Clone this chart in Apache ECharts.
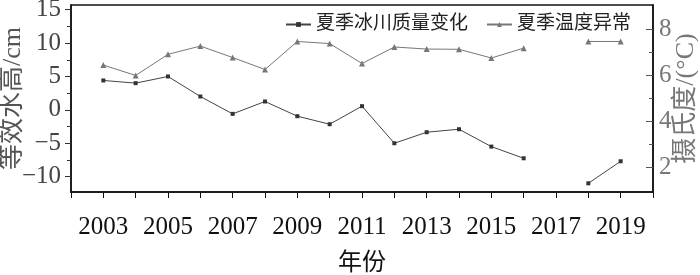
<!DOCTYPE html>
<html>
<head>
<meta charset="utf-8">
<script src="https://cdn.jsdelivr.net/npm/echarts@6/dist/echarts.min.js"></script>
<style>html,body{margin:0;padding:0;background:#fff}#c{width:700px;height:275px}</style>
</head>
<body>
<div id="c"></div>
<script>
const years = [2003,2004,2005,2006,2007,2008,2009,2010,2011,2012,2013,2014,2015,2016,2017,2018,2019];
const glacierMass = [4.4,4.0,5.0,2.0,-0.6,1.25,-0.95,-2.15,0.55,-5.0,-3.35,-2.9,-5.5,-7.25,null,-11.0,-7.7];
const summerTemp = [6.45,6.0,6.92,7.28,6.78,6.26,7.48,7.39,6.52,7.24,7.15,7.14,6.76,7.19,null,7.48,7.48];
const seriesNames = ['夏季冰川质量变化','夏季温度异常'];
const leftTicks = [-10,-5,0,5,10,15];
const leftMinor = [-7.5,-2.5,2.5,7.5,12.5];
const rightTicks = [2,4,6,8];
const rightMinor = [3,5,7];

const serif = 'Liberation Serif, "Noto Sans CJK SC"';
const chart = echarts.init(document.getElementById('c'), null, {renderer:'canvas'});
const minusFmt = v => (v < 0 ? '\u2212' + Math.abs(v) : String(v));
const yBase = (extra) => Object.assign({
  type:'value', splitLine:{show:false}, axisLine:{show:false}
}, extra);

chart.setOption({
  animation:false,
  backgroundColor:'#fff',
  grid:{left:71, right:47, top:5, bottom:83, containLabel:false, outerBoundsMode:'none',
    show:true, borderColor:'#111', borderWidth:1.5, backgroundColor:'transparent'},
  legend:{
    left:280, top:10, itemWidth:25, itemHeight:6, itemGap:18,
    textStyle:{fontSize:19, fontFamily:serif, color:'#222'},
    data:seriesNames
  },
  xAxis:{
    type:'value', min:2002, max:2020, interval:1,
    name:'年份', nameLocation:'middle', nameGap:60, nameMoveOverlap:false,
    nameTextStyle:{fontSize:24, fontFamily:serif, color:'#111'},
    axisLine:{show:true, onZero:false, lineStyle:{color:'#111', width:1.5}},
    axisTick:{show:true, inside:false, length:6, lineStyle:{color:'#111'}},
    axisLabel:{fontSize:25, fontFamily:serif, color:'#111', margin:23,
      formatter: v => (v % 2 === 1 ? String(v) : '')},
    splitLine:{show:false}
  },
  yAxis:[
    yBase({position:'left', min:-12.3, max:15.7,
      name:'等效水高/cm', nameLocation:'middle', nameGap:45, nameRotate:90, nameMoveOverlap:false,
      nameTextStyle:{fontSize:26, fontFamily:serif, color:'#555'},
      axisLine:{show:true, onZero:false, lineStyle:{color:'#111', width:1.5}},
      axisTick:{show:true, inside:false, length:6, customValues:leftTicks, lineStyle:{color:'#333'}},
      axisLabel:{fontSize:25, fontFamily:serif, color:'#444', margin:10, customValues:leftTicks, formatter:minusFmt}
    }),
    yBase({position:'left', min:-12.3, max:15.7,
      axisTick:{show:true, inside:false, length:4, customValues:leftMinor, lineStyle:{color:'#333'}},
      axisLabel:{show:false}
    }),
    yBase({position:'right', min:0.92, max:9.07,
      name:'摄氏度/(°C)', nameLocation:'middle', nameGap:20, nameRotate:90, nameMoveOverlap:false,
      nameTextStyle:{fontSize:26, fontFamily:serif, color:'#777'},
      axisLine:{show:true, onZero:false, lineStyle:{color:'#111', width:1.5}},
      axisTick:{show:true, inside:true, length:7, customValues:rightTicks, lineStyle:{color:'#555'}},
      axisLabel:{fontSize:25, fontFamily:serif, color:'#777', margin:6, customValues:rightTicks}
    }),
    yBase({position:'right', min:0.92, max:9.07,
      axisTick:{show:true, inside:true, length:4, customValues:rightMinor, lineStyle:{color:'#555'}},
      axisLabel:{show:false}
    })
  ],
  series:[
    {name:seriesNames[0], type:'line', yAxisIndex:0, connectNulls:false,
      data: years.map((y,i)=>[y, glacierMass[i]]),
      symbol:'rect', symbolSize:4, lineStyle:{color:'#444', width:1},
      itemStyle:{color:'#333'}, color:'#444'},
    {name:seriesNames[1], type:'line', yAxisIndex:2, connectNulls:false,
      data: years.map((y,i)=>[y, summerTemp[i]]),
      symbol:'triangle', symbolSize:6, lineStyle:{color:'#777', width:1},
      itemStyle:{color:'#777'}, color:'#777'}
  ]
});
</script>
</body>
</html>
